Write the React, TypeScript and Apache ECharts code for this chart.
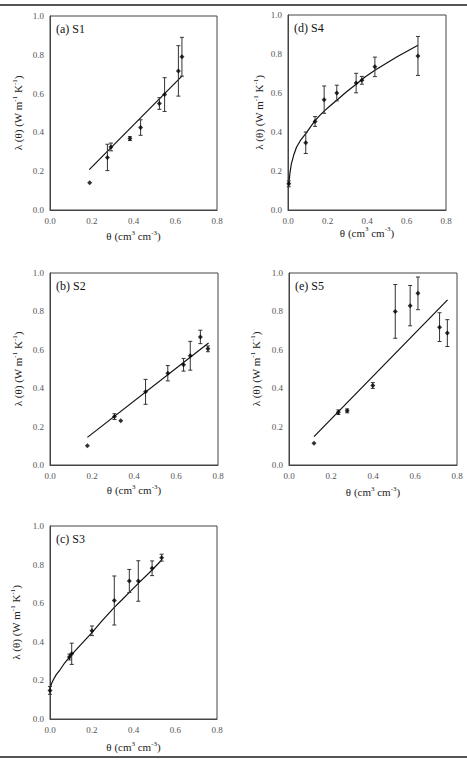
import React, { useEffect, useRef } from "react";
import * as echarts from "echarts";

// ---- Data ----
// (a) S1
const aTheta = [0.19, 0.275, 0.292, 0.383, 0.434, 0.524, 0.549, 0.615, 0.632];
const aLambda = [0.14, 0.271, 0.325, 0.368, 0.425, 0.549, 0.595, 0.717, 0.79];
const aErr = [0, 0.068, 0.02, 0.01, 0.04, 0.03, 0.087, 0.13, 0.1];
const aFitTheta = [0.188, 0.632];
const aFitLambda = [0.208, 0.69];

// (b) S2
const bTheta = [0.178, 0.307, 0.337, 0.455, 0.561, 0.636, 0.668, 0.716, 0.752];
const bLambda = [0.1, 0.252, 0.231, 0.381, 0.478, 0.522, 0.569, 0.667, 0.605];
const bErr = [0, 0.015, 0, 0.065, 0.04, 0.033, 0.075, 0.035, 0.015];
const bFitTheta = [0.178, 0.755];
const bFitLambda = [0.144, 0.635];

// (c) S3
const cTheta = [0.0, 0.093, 0.104, 0.201, 0.308, 0.38, 0.423, 0.489, 0.535];
const cLambda = [0.148, 0.321, 0.338, 0.457, 0.614, 0.715, 0.715, 0.781, 0.836];
const cErr = [0.02, 0.015, 0.055, 0.025, 0.127, 0.06, 0.105, 0.038, 0.018];
const cFitTheta = [0, 0.008, 0.016, 0.03, 0.048, 0.07, 0.096, 0.15, 0.201, 0.25, 0.308, 0.345, 0.38, 0.423, 0.489, 0.535];
const cFitLambda = [0.16, 0.185, 0.203, 0.23, 0.255, 0.29, 0.324, 0.388, 0.448, 0.51, 0.578, 0.618, 0.656, 0.703, 0.772, 0.824];

// (d) S4
const dTheta = [0.004, 0.09, 0.137, 0.183, 0.247, 0.345, 0.374, 0.44, 0.658];
const dLambda = [0.134, 0.345, 0.454, 0.566, 0.6, 0.651, 0.665, 0.734, 0.79];
const dErr = [0.015, 0.055, 0.025, 0.07, 0.04, 0.05, 0.02, 0.05, 0.1];
const dFitTheta = [0.004, 0.01, 0.017, 0.03, 0.043, 0.065, 0.09, 0.115, 0.137, 0.16, 0.183, 0.215, 0.247, 0.295, 0.345, 0.39, 0.44, 0.55, 0.658];
const dFitLambda = [0.134, 0.19, 0.237, 0.285, 0.322, 0.36, 0.392, 0.428, 0.458, 0.484, 0.507, 0.536, 0.563, 0.605, 0.645, 0.682, 0.717, 0.785, 0.845];

// (e) S5
const eTheta = [0.119, 0.235, 0.277, 0.399, 0.506, 0.577, 0.614, 0.717, 0.754];
const eLambda = [0.113, 0.275, 0.282, 0.414, 0.8, 0.83, 0.894, 0.718, 0.687];
const eErr = [0, 0.012, 0.01, 0.015, 0.14, 0.105, 0.085, 0.075, 0.07];
const eFitTheta = [0.119, 0.755];
const eFitLambda = [0.148, 0.86];

const panelLabels = ["(a) S1", "(d) S4", "(b) S2", "(e) S5", "(c) S3"];
const xAxisName = "θ (cm{sup|3} cm{sup|-3})";
const yAxisName = "λ (θ) (W m{sup|-1} K{sup|-1})";

const FONT = "Liberation Serif";

const panels = [
  { theta: aTheta, lambda: aLambda, err: aErr, fx: aFitTheta, fy: aFitLambda,
    grid: { left: 50, top: 16, width: 167, height: 194 }, xGap: 19, yGap: 25 },
  { theta: dTheta, lambda: dLambda, err: dErr, fx: dFitTheta, fy: dFitLambda,
    grid: { left: 288, top: 15, width: 158, height: 195 }, xGap: 13, yGap: 22 },
  { theta: bTheta, lambda: bLambda, err: bErr, fx: bFitTheta, fy: bFitLambda,
    grid: { left: 50, top: 273, width: 168, height: 192 }, xGap: 18, yGap: 25 },
  { theta: eTheta, lambda: eLambda, err: eErr, fx: eFitTheta, fy: eFitLambda,
    grid: { left: 289, top: 273, width: 168, height: 192 }, xGap: 20, yGap: 26 },
  { theta: cTheta, lambda: cLambda, err: cErr, fx: cFitTheta, fy: cFitLambda,
    grid: { left: 50, top: 526, width: 167, height: 193 }, xGap: 21, yGap: 27 },
];

const richName = {
  sup: { fontSize: 7, verticalAlign: "top", fontFamily: FONT, color: "#222", lineHeight: 14 },
};

export default function App() {
  const ref = useRef<HTMLDivElement>(null);
  useEffect(() => {
    if (!ref.current) return;
    const chart = echarts.init(ref.current, null, { renderer: "svg" });

    const grid: any[] = [];
    const xAxis: any[] = [];
    const yAxis: any[] = [];
    const series: any[] = [];
    const graphic: any[] = [];

    panels.forEach((p, i) => {
      grid.push({ ...p.grid, show: true, borderColor: "#444", borderWidth: 1, backgroundColor: "transparent" });
      xAxis.push({
        type: "value", gridIndex: i, min: 0, max: 0.8, interval: 0.2,
        name: xAxisName, nameLocation: "middle", nameGap: p.xGap,
        nameTextStyle: { fontFamily: FONT, fontSize: 11, color: "#222", lineHeight: 14, rich: richName },
        axisLine: { show: true, lineStyle: { color: "#444" } },
        axisTick: { show: false },
        splitLine: { show: false },
        axisLabel: { fontFamily: FONT, fontSize: 9, color: "#555", margin: 6, formatter: (v: number) => v.toFixed(1) },
      });
      yAxis.push({
        type: "value", gridIndex: i, min: 0, max: 1, interval: 0.2,
        name: yAxisName, nameLocation: "middle", nameGap: p.yGap,
        nameTextStyle: { fontFamily: FONT, fontSize: 11, color: "#222", lineHeight: 14, rich: richName },
        axisLine: { show: true, lineStyle: { color: "#444" } },
        axisTick: { show: false },
        splitLine: { show: false },
        axisLabel: { fontFamily: FONT, fontSize: 9, color: "#555", margin: 6, formatter: (v: number) => v.toFixed(1) },
      });
      // fit line
      series.push({
        type: "line", xAxisIndex: i, yAxisIndex: i, showSymbol: false, symbol: "none",
        smooth: false,
        lineStyle: { color: "#111", width: 1.2 },
        data: p.fx.map((x, k) => [x, p.fy[k]]),
        z: 2,
      });
      // error bars
      series.push({
        type: "custom", xAxisIndex: i, yAxisIndex: i,
        data: p.theta
          .map((t, k) => [t, p.lambda[k] - p.err[k], p.lambda[k] + p.err[k], p.err[k]])
          .filter((d) => d[3] > 0),
        encode: { x: 0, y: [1, 2] },
        renderItem: (params: any, api: any) => {
          const x = api.value(0);
          const lo = api.coord([x, api.value(1)]);
          const hi = api.coord([x, api.value(2)]);
          const w = 2;
          const style = { stroke: "#333", lineWidth: 1 };
          return {
            type: "group",
            children: [
              { type: "line", shape: { x1: lo[0], y1: lo[1], x2: hi[0], y2: hi[1] }, style },
              { type: "line", shape: { x1: lo[0] - w, y1: lo[1], x2: lo[0] + w, y2: lo[1] }, style },
              { type: "line", shape: { x1: hi[0] - w, y1: hi[1], x2: hi[0] + w, y2: hi[1] }, style },
            ],
          };
        },
        z: 3,
      });
      // points
      series.push({
        type: "scatter", xAxisIndex: i, yAxisIndex: i,
        symbol: "diamond", symbolSize: 5,
        itemStyle: { color: "#000" },
        data: p.theta.map((t, k) => [t, p.lambda[k]]),
        z: 4,
      });
      graphic.push({
        type: "text",
        x: p.grid.left + 6,
        y: p.grid.top + 13,
        style: { text: panelLabels[i], fontFamily: FONT, fontSize: 12, fill: "#111", verticalAlign: "middle" },
      });
    });

    graphic.push({ type: "rect", shape: { x: 0, y: 4, width: 467, height: 2 }, style: { fill: "#555" } });
    graphic.push({ type: "rect", shape: { x: 0, y: 756, width: 467, height: 2 }, style: { fill: "#555" } });

    chart.setOption({
      animation: false,
      backgroundColor: "#fff",
      textStyle: { fontFamily: FONT },
      grid, xAxis, yAxis, series, graphic,
    });
    return () => chart.dispose();
  }, []);
  return (
    <div
      ref={ref}
      style={{ position: "absolute", left: 0, top: 0, width: 467, height: 762 }}
    />
  );
}
